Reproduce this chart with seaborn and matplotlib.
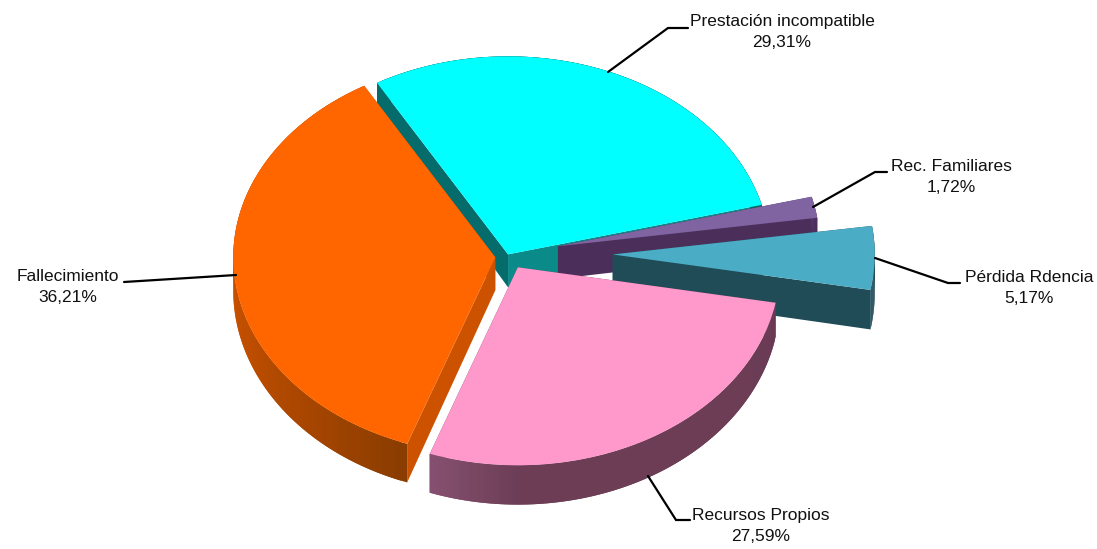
import numpy as np
import matplotlib
matplotlib.use("Agg")
import matplotlib.pyplot as plt
from matplotlib.transforms import Affine2D
from matplotlib.patches import Polygon
import seaborn as sns

categories = ["Prestación incompatible", "Rec. Familiares", "Pérdida Rdencia", "Recursos Propios", "Fallecimiento"]
values = [29.31, 1.72, 5.17, 27.59, 36.21]
explode = [0.02, 0.21, 0.415, 0.06, 0.045]
nudge_px = [(0, 0), (-2, -3.5), (-2, -5), (4, -1), (1, -1.5)]
depth_scale = [1, 1, 1.16, 1, 1]
top_colors = ["#00FFFF", "#8064A2", "#4BACC6", "#FF99CC", "#FF6600"]
start_wall = ["#056B6B", "#4B2F5A", "#215060", "#6C3D55", "#CC5200"]
end_wall = ["#0B8A8A", "#4B2F5A", "#204C58", "#6C3D55", "#CC5200"]
rim_stops = [["#056B6B", "#056B6B"],
             ["#5A3A72", "#4B2F5A"],
             ["#204C58", "#1F4A58"],
             ["#6A3A55", "#6C3D55", "#6C3D55", "#6C3D55", "#6C3D55", "#85506F"],
             ["#8A3D00", "#A84600", "#C04E00", "#CC5200", "#CC5200", "#CC5200"]]
draw_order = [0, 1, 2, 4, 3]
top_z_override = {0: 17}
label_xy = [(782, 32), (951, 177), (1029, 288), (761, 526), (68, 287)]
leaders = [[(608, 72), (668, 28), (688, 28)],
           [(813, 207), (875, 172), (887, 172)],
           [(875, 258), (948, 283), (960, 283)],
           [(648, 476), (676, 520), (690, 520)],
           [(236, 275), (124, 282)]]

W, H = 1097, 549
CX, CY, RX, RY = 506, 258, 262, 198
START = 120

sns.set_theme(style="white")
plt.rcParams["font.family"] = ["Liberation Sans", "DejaVu Sans"]

fig = plt.figure(figsize=(W / 100, H / 100), dpi=100, facecolor="white")
ax = fig.add_axes([0, 0, 1, 1])
wedges, _ = ax.pie(values, explode=explode, startangle=START, counterclock=False,
                   colors=top_colors, radius=1, wedgeprops=dict(linewidth=0))
ax.set_aspect("auto")
ax.set_xlim(-CX / RX, (W - CX) / RX)
ax.set_ylim(-(H - CY) / RY, CY / RY)
ax.axis("off")


def lowered(y, scale):
    y = np.asarray(y)
    dp = CY - y * RY - 255
    d = scale * (33 + np.where(dp > 0, 0.03, 0.055) * dp) / RY
    return y - d


total = sum(values)
frac = np.cumsum([0] + values) / total * 360
for rank, i in enumerate(draw_order):
    a0 = np.radians(START - frac[i])
    a1 = np.radians(START - frac[i + 1])
    mid = (a0 + a1) / 2
    nx, ny = nudge_px[i][0] / RX, -nudge_px[i][1] / RY
    ox = explode[i] * np.cos(mid) + nx
    oy = explode[i] * np.sin(mid) + ny
    wedges[i].set_center((ox, oy))
    base = rank * 10
    for ang, col, z in ((a0, start_wall[i], 1), (a1, end_wall[i], 2)):
        xs = np.array([ox, ox + np.cos(ang)])
        ys = np.array([oy, oy + np.sin(ang)])
        pts = np.column_stack([np.r_[xs, xs[::-1]], np.r_[ys, lowered(ys, depth_scale[i])[::-1]]])
        ax.add_patch(Polygon(pts, closed=True, facecolor=col, edgecolor="none", zorder=base + z))
    n = 90
    edges = np.linspace(a0, a1, n + 1)
    shades = sns.blend_palette(rim_stops[i], n)
    for k in range(n):
        seg = edges[k:k + 3]
        xs = ox + np.cos(seg)
        ys = oy + np.sin(seg)
        pts = np.column_stack([np.r_[xs, xs[::-1]], np.r_[ys, lowered(ys, depth_scale[i])[::-1]]])
        ax.add_patch(Polygon(pts, closed=True, facecolor=shades[k], edgecolor="none", zorder=base + 3 + k / n))
    wedges[i].set_zorder(top_z_override.get(i, base + 5))

px = Affine2D().scale(1 / W, -1 / H).translate(0, 1) + fig.transFigure
for name, val, xy, pts in zip(categories, values, label_xy, leaders):
    pct = f"{val:.2f}%".replace(".", ",")
    ax.text(xy[0], xy[1], f"{name}\n{pct}", transform=px, ha="center", va="center",
            fontsize=12.5, color="#111111", linespacing=1.5, zorder=100)
    p = np.array(pts)
    ax.plot(p[:, 0], p[:, 1], transform=px, color="black", lw=1.6, zorder=99,
            solid_joinstyle="miter", clip_on=False)

fig.savefig("out.png", dpi=100, facecolor="white")
